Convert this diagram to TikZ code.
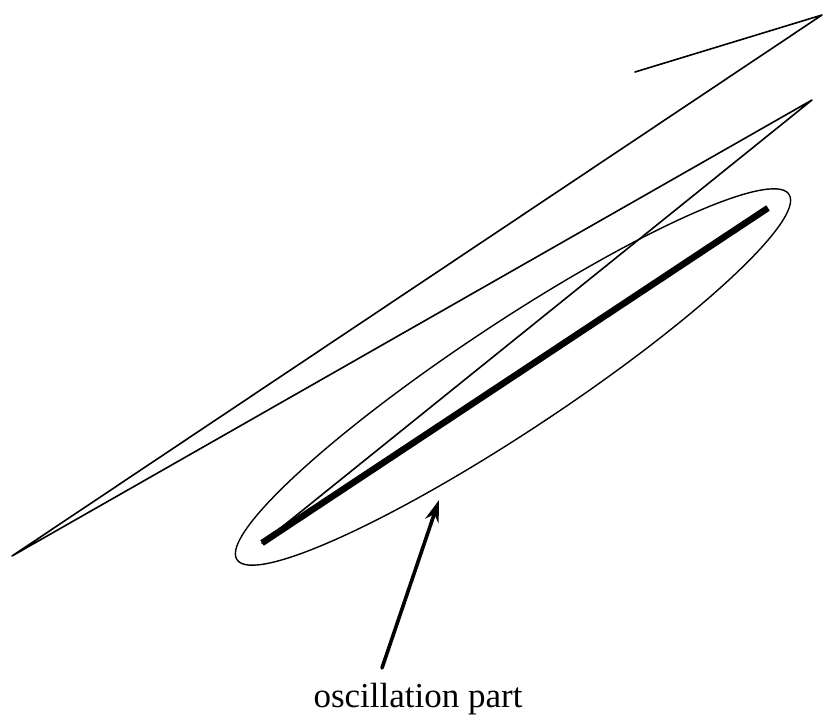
\documentclass[tikz,border=0pt]{standalone}
\usepackage{fontspec}
\setmainfont{Liberation Serif}
\usetikzlibrary{arrows.meta}

\begin{document}
\begin{tikzpicture}[x=1pt,y=-1pt,line join=round,line cap=round,
  path/.style={line width=1.6pt},
  osc/.style={line width=6.5pt},
  pointer/.style={line width=3.6pt,-{Stealth[length=22pt,width=14pt]}}]
\useasboundingbox (0,0) rectangle (825,720);
\coordinate (p0) at (635,72);
\coordinate (p1) at (822,15);
\coordinate (p2) at (12,556);
\coordinate (p3) at (812,100);
\coordinate (os) at (262,543);
\coordinate (oe) at (768,208);
\coordinate (ctr) at (513,377);
\draw[path] (p0) -- (p1) -- (p2) -- (p3) -- (os);
\draw[osc,line cap=butt] (os) -- (oe);
\draw[line width=1.4pt] (ctr) ellipse [x radius=331, y radius=54, rotate=33.5];
\node[anchor=base,inner sep=0pt,font=\fontsize{35}{40}\selectfont] (lbl) at (418,707) {oscillation part};
\coordinate (tail) at (382,668);
\coordinate (tip) at (439,500);
\draw[pointer] (tail) -- (tip);
\end{tikzpicture}
\end{document}
